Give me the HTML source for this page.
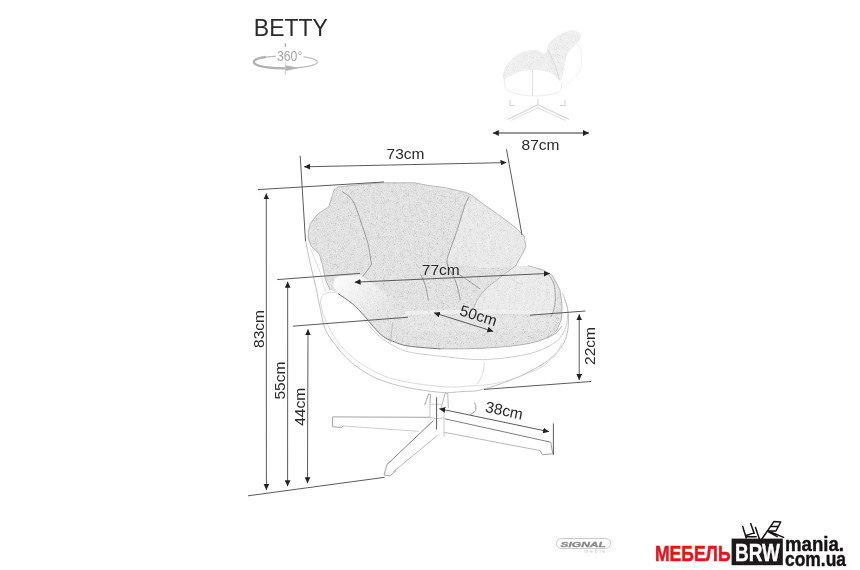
<!DOCTYPE html>
<html><head><meta charset="utf-8">
<style>
html,body{margin:0;padding:0;background:#fff;}
body{width:860px;height:570px;overflow:hidden;position:relative;font-family:"Liberation Sans",sans-serif;}
svg{position:absolute;left:0;top:0;will-change:transform;filter:blur(0.3px);}
</style></head><body>
<svg width="860" height="570" viewBox="0 0 860 570" font-family="Liberation Sans">
<defs>
<marker id="ar" viewBox="0 0 10 10" refX="10" refY="5" markerWidth="6" markerHeight="6" markerUnits="userSpaceOnUse" orient="auto-start-reverse">
<path d="M0,0.2 L10,5 L0,9.8 Z" fill="#222"/>
</marker>
<filter id="tex" x="0" y="0" width="1" height="1" color-interpolation-filters="sRGB">
<feTurbulence type="fractalNoise" baseFrequency="0.22" numOctaves="2" seed="3" result="n1"/>
<feColorMatrix in="n1" type="matrix" values="1 0 0 0 0  1 0 0 0 0  1 0 0 0 0  0 0 0 0 1" result="g1"/>
<feTurbulence type="fractalNoise" baseFrequency="0.85" numOctaves="2" seed="9" result="n2"/>
<feColorMatrix in="n2" type="matrix" values="1 0 0 0 0  1 0 0 0 0  1 0 0 0 0  0 0 0 0 1" result="g2"/>
<feComposite in="g1" in2="g2" operator="arithmetic" k1="0" k2="0.3" k3="0.7" k4="0" result="g"/>
<feComponentTransfer in="g" result="t">
<feFuncR type="table" tableValues="0.60 0.66 0.73 0.80 0.855 0.888 0.908 0.922 0.935 0.945 0.955"/>
<feFuncG type="table" tableValues="0.60 0.66 0.73 0.80 0.855 0.888 0.908 0.922 0.935 0.945 0.955"/>
<feFuncB type="table" tableValues="0.60 0.66 0.73 0.80 0.855 0.888 0.908 0.922 0.935 0.945 0.955"/>
</feComponentTransfer>
<feComposite in="t" in2="SourceGraphic" operator="in"/>
</filter>
<filter id="soft" x="-10%" y="-10%" width="120%" height="120%"><feGaussianBlur stdDeviation="0.6"/></filter>
<linearGradient id="armg" x1="0" y1="0" x2="1" y2="1">
<stop offset="0" stop-color="#fff" stop-opacity="0.95"/>
<stop offset="0.3" stop-color="#fff" stop-opacity="0.55"/>
<stop offset="0.65" stop-color="#fff" stop-opacity="0.1"/>
<stop offset="1" stop-color="#fff" stop-opacity="0"/>
</linearGradient>
</defs>

<text x="253.8" y="35.5" font-size="23" fill="#2a2a2a">BETTY</text>
<g fill="none" stroke="#bcbcbc">
<ellipse cx="285.8" cy="62" rx="31.6" ry="6.1" stroke-width="1.2"/>
<path d="M266,56.8 C252,58.5 251,63 258,65.5 C266,68 276,68.4 286,68.3" stroke-width="2.2" stroke="#b2b2b2"/>
<line x1="285.3" y1="43.3" x2="285.3" y2="47.6" stroke-width="1.2" stroke="#aaa"/>
<line x1="285.3" y1="62" x2="285.3" y2="75" stroke-width="1" stroke="#d0d0d0"/>
</g>
<path d="M285.7,65.2 L299.3,67.9 L285.7,71 Z" fill="#b4b4b4"/>
<rect x="276" y="47" width="27.5" height="13" fill="#fff"/>
<text x="277" y="60.5" font-size="14.5" fill="#a4a4a4" textLength="25.3" lengthAdjust="spacingAndGlyphs">360°</text>
<g filter="url(#soft)">
<path d="M504.0,79.0 C504.7,81.0 503.3,88.0 508.2,90.8 C513.1,93.6 524.9,95.8 533.2,96.0 C541.5,96.2 553.4,94.5 558.2,92.1 C563.0,89.7 561.5,83.3 562.1,81.6" fill="none" stroke="#eaeaea" stroke-width="1"/>
<path d="M563.4,35.5 C565.8,37.1 574.9,41.8 578.0,45.0 C581.1,48.2 581.6,50.7 581.8,55.0 C582.0,59.3 582.1,65.7 579.2,71.0 C576.4,76.3 567.1,84.2 564.7,86.8" fill="none" stroke="#efefef" stroke-width="1"/>
<line x1="532.5" y1="70" x2="532.5" y2="96" stroke="#e2e2e2" stroke-width="1"/>
<g filter="url(#tex)"><path d="M502.9,75.0 C503.1,73.3 504.8,68.1 506.0,66.0 C507.2,63.9 510.1,61.0 512.1,59.2 C514.1,57.4 518.3,53.8 521.3,52.6 C524.3,51.4 531.3,49.9 534.5,50.0 C537.7,50.1 543.3,53.5 545.0,53.3 C546.7,53.1 547.1,50.0 547.6,48.7 C548.1,47.4 548.1,44.8 549.0,43.4 C549.9,42.0 552.3,39.6 554.2,38.2 C556.1,36.8 560.9,34.0 563.4,32.9 C565.9,31.8 570.5,30.3 572.6,30.3 C574.7,30.3 578.1,31.8 579.2,32.9 C580.3,34.0 581.2,36.5 580.5,38.2 C579.8,39.9 575.6,43.9 573.9,46.0 C572.2,48.1 568.6,51.5 567.4,54.0 C566.2,56.5 565.4,61.4 564.7,64.5 C564.0,67.6 562.7,75.5 562.0,77.6 C561.3,79.7 561.1,81.0 559.5,80.3 C557.9,79.6 553.6,73.8 550.3,72.4 C547.0,71.0 538.4,69.9 534.5,69.7 C530.6,69.5 524.6,70.1 521.3,71.0 C518.0,71.9 511.8,75.2 509.5,76.3 C507.2,77.4 505.1,79.2 504.2,79.0 C503.3,78.8 502.7,76.7 502.9,75.0 Z" fill="#e4e4e4"/></g>
<path d="M502.9,75.0 C503.1,73.3 504.8,68.1 506.0,66.0 C507.2,63.9 510.1,61.0 512.1,59.2 C514.1,57.4 518.3,53.8 521.3,52.6 C524.3,51.4 531.3,49.9 534.5,50.0 C537.7,50.1 543.3,53.5 545.0,53.3 C546.7,53.1 547.1,50.0 547.6,48.7 C548.1,47.4 548.1,44.8 549.0,43.4 C549.9,42.0 552.3,39.6 554.2,38.2 C556.1,36.8 560.9,34.0 563.4,32.9 C565.9,31.8 570.5,30.3 572.6,30.3 C574.7,30.3 578.1,31.8 579.2,32.9 C580.3,34.0 581.2,36.5 580.5,38.2 C579.8,39.9 575.6,43.9 573.9,46.0 C572.2,48.1 568.6,51.5 567.4,54.0 C566.2,56.5 565.4,61.4 564.7,64.5 C564.0,67.6 562.7,75.5 562.0,77.6 C561.3,79.7 561.1,81.0 559.5,80.3 C557.9,79.6 553.6,73.8 550.3,72.4 C547.0,71.0 538.4,69.9 534.5,69.7 C530.6,69.5 524.6,70.1 521.3,71.0 C518.0,71.9 511.8,75.2 509.5,76.3 C507.2,77.4 505.1,79.2 504.2,79.0 C503.3,78.8 502.7,76.7 502.9,75.0 Z" fill="#fff" opacity="0.45"/>
<path d="M547.6,48.7 C548.3,50.2 550.6,54.8 552.0,58.0 C553.4,61.2 554.8,64.3 556.0,68.0 C557.2,71.7 558.9,78.2 559.5,80.3" fill="none" stroke="#d6d6d6" stroke-width="0.8"/>
<g stroke="#d4d4d4" stroke-width="1.1" fill="none">
<path d="M537.9,99 L537.9,104.7 M537.9,104.7 L507.5,119.4 M537.9,104.7 L569.2,119.4"/>
<path d="M539,107.5 L511,120.5 M537,107.5 L566,120.5" stroke="#e4e4e4"/>
<path d="M510,100 L510,105.5 L515,105.5 M565,100 L565,105.5 L560,105.5"/>
</g>
</g>
<line x1="492.8" y1="133" x2="589" y2="133" stroke="#333" stroke-width="1" marker-start="url(#ar)" marker-end="url(#ar)"/>
<text x="521.6" y="149.9" font-size="15.5" fill="#2a2a2a">87cm</text>
<path d="M305.5,240.5 C306.2,243.8 308.2,254.2 309.5,260.0 C310.8,265.8 311.8,270.0 313.0,275.0 C314.2,280.0 315.4,285.0 316.5,290.0 C317.6,295.0 318.1,298.6 319.5,305.0 C320.9,311.4 322.5,322.1 325.0,328.6 C327.5,335.1 330.5,338.5 334.7,344.0 C338.9,349.5 343.8,355.9 350.2,361.4 C356.6,366.9 364.7,372.7 373.4,376.9 C382.1,381.1 391.2,383.9 402.3,386.5 C413.4,389.1 430.1,391.4 440.0,392.3 C449.9,393.2 454.3,392.1 461.4,391.6 C468.5,391.1 473.2,391.9 482.6,389.5 C492.0,387.1 507.5,381.6 517.7,377.2 C527.9,372.8 537.0,367.9 544.0,363.2 C551.0,358.5 556.0,353.8 559.8,349.1 C563.6,344.4 565.3,340.4 566.8,335.1 C568.3,329.8 568.6,322.5 568.6,317.5 C568.6,312.5 567.7,309.0 566.7,305.0 C565.7,301.0 563.2,295.2 562.5,293.3" fill="#fff" stroke="#bababa" stroke-width="0.9"/>
<path d="M337.5,293.0 C336.5,292.9 333.2,292.2 331.3,292.2 C329.4,292.2 327.6,292.3 326.0,293.0 C324.4,293.7 322.6,294.9 321.7,296.6 C320.8,298.3 320.7,300.4 320.8,303.0 C320.9,305.6 321.8,309.3 322.5,312.0 C323.2,314.7 323.3,315.3 325.0,319.0 C326.7,322.7 329.6,329.3 332.8,334.4 C336.0,339.5 339.2,344.6 344.4,349.8 C349.5,355.0 355.6,360.5 363.7,365.3 C371.8,370.1 380.0,375.3 392.7,378.8 C405.4,382.3 427.1,385.3 440.0,386.5 C452.9,387.7 460.0,386.7 470.0,386.0 C480.0,385.3 489.3,385.1 500.2,382.5 C511.1,379.9 526.5,374.3 535.3,370.2 C544.1,366.1 548.3,362.4 552.8,357.9 C557.2,353.4 560.5,345.5 562.0,343.0" fill="none" stroke="#d0d0d0" stroke-width="0.8"/>
<path d="M310.0,247.5 C311.0,249.9 314.2,257.4 316.0,262.0 C317.8,266.6 319.8,271.3 321.0,275.0 C322.2,278.7 322.6,281.6 323.4,284.3 C324.2,287.0 325.2,290.1 325.6,291.3" fill="none" stroke="#d4d4d4" stroke-width="0.8"/>
<path d="M363.7,319.0 C365.9,321.6 372.7,330.2 377.2,334.4 C381.7,338.6 385.5,341.1 390.7,344.0 C395.9,346.9 399.9,349.8 408.1,351.8 C416.3,353.8 427.6,354.8 440.0,356.1 C452.4,357.4 468.2,359.9 482.6,359.6 C497.0,359.3 514.8,357.0 526.5,354.4 C538.2,351.8 546.4,348.0 552.8,343.9 C559.2,339.8 562.5,335.4 565.0,329.8 C567.5,324.2 567.7,315.5 567.7,310.5 C567.7,305.5 565.5,301.8 565.0,300.0" fill="none" stroke="#c8c8c8" stroke-width="0.9"/>
<path d="M484.4,362.3 C484.1,364.2 483.8,370.1 482.6,373.7 C481.4,377.3 478.3,382.4 477.4,384.2" fill="none" stroke="#d2d2d2" stroke-width="0.8"/>
<g filter="url(#tex)"><path d="M334.2,189.8 L338.4,187.0 L360.0,184.5 L383.4,182.8 L414.8,182.8 L427.5,185.3 L446.7,187.9 L465.9,192.4 L472.3,195.6 L483.9,204.6 L501.4,216.8 L515.4,227.4 L524.2,236.1 L526.0,246.7 L522.5,253.7 L515.4,266.0 L528.3,265.8 L543.3,270.0 L551.7,275.0 L556.0,282.0 L559.9,289.9 L562.1,304.8 L561.3,319.7 L556.9,330.1 L547.9,337.6 L526.5,343.9 L482.6,348.2 L440.0,348.9 L408.1,346.0 L392.7,341.2 L383.0,336.3 L373.4,326.7 L363.7,315.1 L352.1,303.5 L338.6,293.9 L330.0,289.6 L325.5,280.0 L322.5,265.0 L319.6,255.0 L316.2,250.6 L311.0,246.0 L308.2,238.0 L308.5,231.0 L310.4,223.3 L318.2,213.6 L328.8,206.9 L332.6,194.3 Z" fill="#dfdfdf"/></g>
<path d="M469.0,196.7 L483.9,204.6 L501.4,216.8 L515.4,227.4 L524.2,236.1 L526.0,246.7 L522.5,253.7 L515.4,266.0 L480.0,268.0 L447.0,260.7 L448.8,253.7 L457.5,229.1 L464.6,206.3 Z" fill="#fff" opacity="0.25"/>
<path d="M516.7,265.0 L528.3,265.8 L543.3,270.0 L551.7,275.0 L556.7,288.0 L556.7,305.0 L554.2,311.0 L540.0,311.0 L528.3,311.0 L486.7,310.5 L473.3,308.3 L478.3,298.3 L486.7,288.3 L503.3,275.0 Z" fill="#fff" opacity="0.3"/>
<path d="M333.0,286.0 L334.7,279.0 L337.5,276.2 L360.6,275.3 L376.0,285.9 L395.4,303.3 L403.0,316.8 L398.0,330.0 L392.7,341.2 L383.0,336.3 L373.4,326.7 L363.7,315.1 L352.1,303.5 L338.6,293.9 Z" fill="url(#armg)"/>
<path d="M405,311 C440,309.5 500,309.5 553,311 L553,314.5 C500,313.5 440,313.5 405,315 Z" fill="#fff" opacity="0.45"/>
<path d="M400,316 C450,316 510,316 553,316 L550,330 C500,333 450,333 405,331 Z" fill="#fff" opacity="0.12"/>
<g fill="none" stroke-linecap="round">
<path d="M342.6,191.9 C344.0,193.0 348.6,195.4 351.0,198.3 C353.4,201.2 354.8,204.8 356.7,209.5 C358.6,214.2 360.4,220.7 362.3,226.3 C364.2,231.9 366.5,237.6 367.9,243.2 C369.3,248.8 370.2,256.4 370.7,260.0 C371.2,263.6 372.3,262.3 371.0,265.0 C369.7,267.7 364.3,274.2 363.0,276.0" stroke="#8a8a8a" stroke-width="0.8"/>
<path d="M469.0,196.7 C468.3,198.3 466.5,200.9 464.6,206.3 C462.7,211.7 460.1,221.2 457.5,229.1 C454.9,237.0 450.6,248.4 448.8,253.7 C447.1,259.0 447.0,258.3 447.0,260.7 C447.0,263.1 447.4,264.9 448.6,267.9 C449.8,270.8 452.8,274.9 454.4,278.4 C455.9,281.9 456.9,285.2 457.9,288.8 C458.9,292.4 459.8,298.1 460.2,300.0" stroke="#8a8a8a" stroke-width="0.8"/>
<path d="M457.9,273.7 C459.6,274.9 464.7,278.2 468.4,280.7 C472.1,283.2 478.1,287.4 480.0,288.8" stroke="#8a8a8a" stroke-width="0.8"/>
<path d="M420.7,274.9 C421.5,276.6 424.0,281.1 425.3,285.3 C426.6,289.5 427.8,297.6 428.3,300.0" stroke="#8a8a8a" stroke-width="0.8"/>
<path d="M516.7,265.0 C514.5,266.7 508.3,271.1 503.3,275.0 C498.3,278.9 490.9,284.4 486.7,288.3 C482.5,292.2 480.5,295.0 478.3,298.3 C476.1,301.6 474.1,306.6 473.3,308.3" stroke="#b0b0b0" stroke-width="0.8"/>
<path d="M338.6,293.9 C340.9,295.5 347.9,300.0 352.1,303.5 C356.3,307.0 360.1,311.2 363.7,315.1 C367.2,319.0 370.2,323.2 373.4,326.7 C376.6,330.2 379.8,333.9 383.0,336.3 C386.2,338.7 388.5,339.6 392.7,341.2 C396.9,342.8 400.2,344.7 408.1,346.0 C416.0,347.3 434.7,348.4 440.0,348.9" stroke="#666" stroke-width="0.9"/>
<path d="M440.0,348.9 C447.1,348.8 468.2,349.0 482.6,348.2 C497.0,347.4 514.8,346.1 526.5,343.9 C538.2,341.7 546.9,338.0 552.8,335.1 C558.6,332.2 560.1,327.8 561.6,326.3" stroke="#9a9a9a" stroke-width="0.8"/>
<path d="M392.7,322.8 C392.5,324.3 391.8,328.8 391.5,332.0 C391.2,335.2 390.8,340.4 390.7,342.1" stroke="#b4b4b4" stroke-width="0.8"/>
<path d="M334.2,189.8 L338.4,187.0 L360.0,184.5 L383.4,182.8 L414.8,182.8 L427.5,185.3 L446.7,187.9 L465.9,192.4 L472.3,195.6 L483.9,204.6 L501.4,216.8 L515.4,227.4 L524.2,236.1 L526.0,246.7 L522.5,253.7 L515.4,266.0" stroke="#b4b4b4" stroke-width="0.9"/>
<path d="M334.2,189.8 L332.6,194.3 L328.8,206.9 L318.2,213.6 L310.4,223.3 L308.5,231.0 L308.2,238.0 L311.0,246.0 L316.2,250.6 L319.6,255.0 L322.5,265.0 L325.5,280.0 L330.0,289.6" stroke="#b0b0b0" stroke-width="0.9"/>
<path d="M528.3,265.8 L543.3,270.0 L551.7,275.0 L556.0,282.0 L559.9,289.9 L562.1,304.8 L561.3,319.7 L556.9,330.1 L547.9,337.6" stroke="#b0b0b0" stroke-width="0.9"/>
<path d="M547.9,273.4 C548.9,275.1 552.6,279.9 553.9,283.9 C555.1,287.9 555.4,293.1 555.4,297.3 C555.4,301.5 554.6,306.1 553.9,309.3 C553.1,312.5 551.4,315.5 550.9,316.7" stroke="#9a9a9a" stroke-width="1" stroke-dasharray="2 1"/>
</g>
<g fill="none" stroke="#999" stroke-width="0.9" stroke-linejoin="round">
<path d="M424.7,405.3 L428.5,394.2 L430.4,394.2 L430,403.3" stroke="#9a9a9a"/>
<path d="M441.1,408.2 L444.9,393.7 L447.8,393.7 L448.3,408.2" stroke="#b0b0b0"/>
<path d="M429.5,404.3 L441.1,404.3" stroke="#c8c8c8"/>
<path d="M430,404 L430,417 M444,408 L444,437" stroke="#c4c4c4"/>
<path d="M428.5,416.9 Q436.2,420 444,417.8" stroke="#c0c0c0"/>
<path d="M474.4,402.4 L475.8,405.8 L475.8,410.6 L472.9,413 L470,414.9" stroke="#9a9a9a"/>
<path d="M332.6,416.9 L429.5,417.3"/>
<path d="M343.1,426 L418.7,431.3" stroke="#c8c8c8"/>
<path d="M332.6,416.9 L332.6,426.7 L341.6,427.5 L343.1,426"/>
<path d="M433.3,420.7 L387,464.5" stroke="#707070"/>
<path d="M436.9,435.8 L393,472.1" stroke="#b0b0b0"/>
<path d="M387,464.5 L384,475 L390,475.9 L396,470.6"/>
<path d="M444.9,418.8 L550.7,442.2" stroke="#707070"/>
<path d="M444,432.3 L540.2,450.6" stroke="#b0b0b0"/>
<path d="M550.7,442.2 L552.8,453.7 L542.3,454.8 L540.2,450.6"/>
</g>
<g stroke="#5a5a5a" stroke-width="1" fill="none">
<line x1="300.2" y1="155.7" x2="305.5" y2="241"/>
<line x1="506.5" y1="149.3" x2="522" y2="235"/>
<line x1="304" y1="166.8" x2="506.5" y2="162.6" marker-start="url(#ar)" marker-end="url(#ar)"/>
<line x1="258" y1="189.6" x2="384" y2="182"/>
<line x1="266.3" y1="193.4" x2="266.4" y2="489.9" marker-start="url(#ar)" marker-end="url(#ar)"/>
<line x1="248" y1="495.8" x2="384.7" y2="477.3"/>
<line x1="277.2" y1="279.6" x2="360" y2="273.4"/>
<line x1="287.7" y1="281.7" x2="287.6" y2="486.3" marker-start="url(#ar)" marker-end="url(#ar)"/>
<line x1="292.9" y1="326.2" x2="408" y2="317.2"/>
<line x1="308" y1="329.3" x2="307.5" y2="483.2" marker-start="url(#ar)" marker-end="url(#ar)"/>
<line x1="354.6" y1="282.2" x2="549.9" y2="273.4" marker-start="url(#ar)" marker-end="url(#ar)"/>
<line x1="434" y1="312.8" x2="493.3" y2="331.4" marker-start="url(#ar)" marker-end="url(#ar)"/>
<line x1="530" y1="315.2" x2="585.5" y2="311"/>
<line x1="484" y1="389.4" x2="591" y2="381.5"/>
<line x1="579.2" y1="314.2" x2="579.2" y2="380" marker-start="url(#ar)" marker-end="url(#ar)"/>
<line x1="436.6" y1="397.2" x2="436.6" y2="429.6"/>
<line x1="553.4" y1="423.4" x2="553.4" y2="454.8"/>
<line x1="439.3" y1="408.7" x2="549" y2="431.7" marker-start="url(#ar)" marker-end="url(#ar)"/>
</g>
<g font-size="15.5" fill="#2a2a2a">
<text x="386.6" y="159.4">73cm</text>
<text x="421.8" y="274.8">77cm</text>
<text transform="translate(478.6,315.4) rotate(17)" text-anchor="middle" dy="5.5">50cm</text>
<text transform="translate(504.2,410.3) rotate(12)" text-anchor="middle" dy="5.5">38cm</text>
<text transform="translate(589,346) rotate(-90)" text-anchor="middle" dy="5.5">22cm</text>
<text transform="translate(258.6,329) rotate(-90)" text-anchor="middle" dy="5.5">83cm</text>
<text transform="translate(279.6,380.6) rotate(-90)" text-anchor="middle" dy="5.5">55cm</text>
<text transform="translate(299.7,406.9) rotate(-90)" text-anchor="middle" dy="5.5">44cm</text>
</g>
<rect x="556.5" y="538.5" width="54" height="10" rx="5" fill="none" stroke="#bbb" stroke-width="0.8"/>
<text x="560.4" y="546.8" font-size="7.4" font-weight="bold" font-style="italic" fill="#888" stroke="#888" stroke-width="0.3" textLength="45.5" lengthAdjust="spacingAndGlyphs">SIGNAL</text>
<text x="584.2" y="552.6" font-size="5" fill="#c4c4c4" textLength="21" lengthAdjust="spacing">meble</text>
<text x="655" y="561" font-size="22" font-weight="bold" fill="#e5141b" stroke="#e5141b" stroke-width="0.5" textLength="75.5" lengthAdjust="spacingAndGlyphs">МЕБЕЛЬ</text>
<rect x="731.6" y="538.6" width="51.2" height="26.6" fill="#1c1a1a"/>
<text x="735" y="561.3" font-size="24.5" font-weight="bold" fill="#fff" stroke="#fff" stroke-width="0.4" textLength="45" lengthAdjust="spacingAndGlyphs">BRW</text>
<text x="785" y="550.6" font-size="19.5" font-weight="bold" fill="#141212" stroke="#141212" stroke-width="0.4" textLength="59" lengthAdjust="spacingAndGlyphs">mania.</text>
<text x="785" y="565.6" font-size="19.5" font-weight="bold" fill="#141212" stroke="#141212" stroke-width="0.4" textLength="61" lengthAdjust="spacingAndGlyphs">com.ua</text>
<g stroke="#141212" stroke-width="1.5" fill="none" stroke-linecap="round" stroke-linejoin="round">
<path d="M742.7,526.5 L746.2,538 M750.7,523.6 L754.2,533.5 M755.5,527.5 L759.3,538.7 M746.2,535.5 L754.2,532.9 M747.1,536.7 L756.1,536.7"/>
<path d="M761.9,539 L774,521.4 L780.7,522 L775.9,531 M768.2,531 L783.6,537.4 M771.4,526.5 L778.5,526.5 M768.2,531.6 L777.2,536.7 M768.5,531 L775.9,531"/>
</g>
</svg>
</body></html>
